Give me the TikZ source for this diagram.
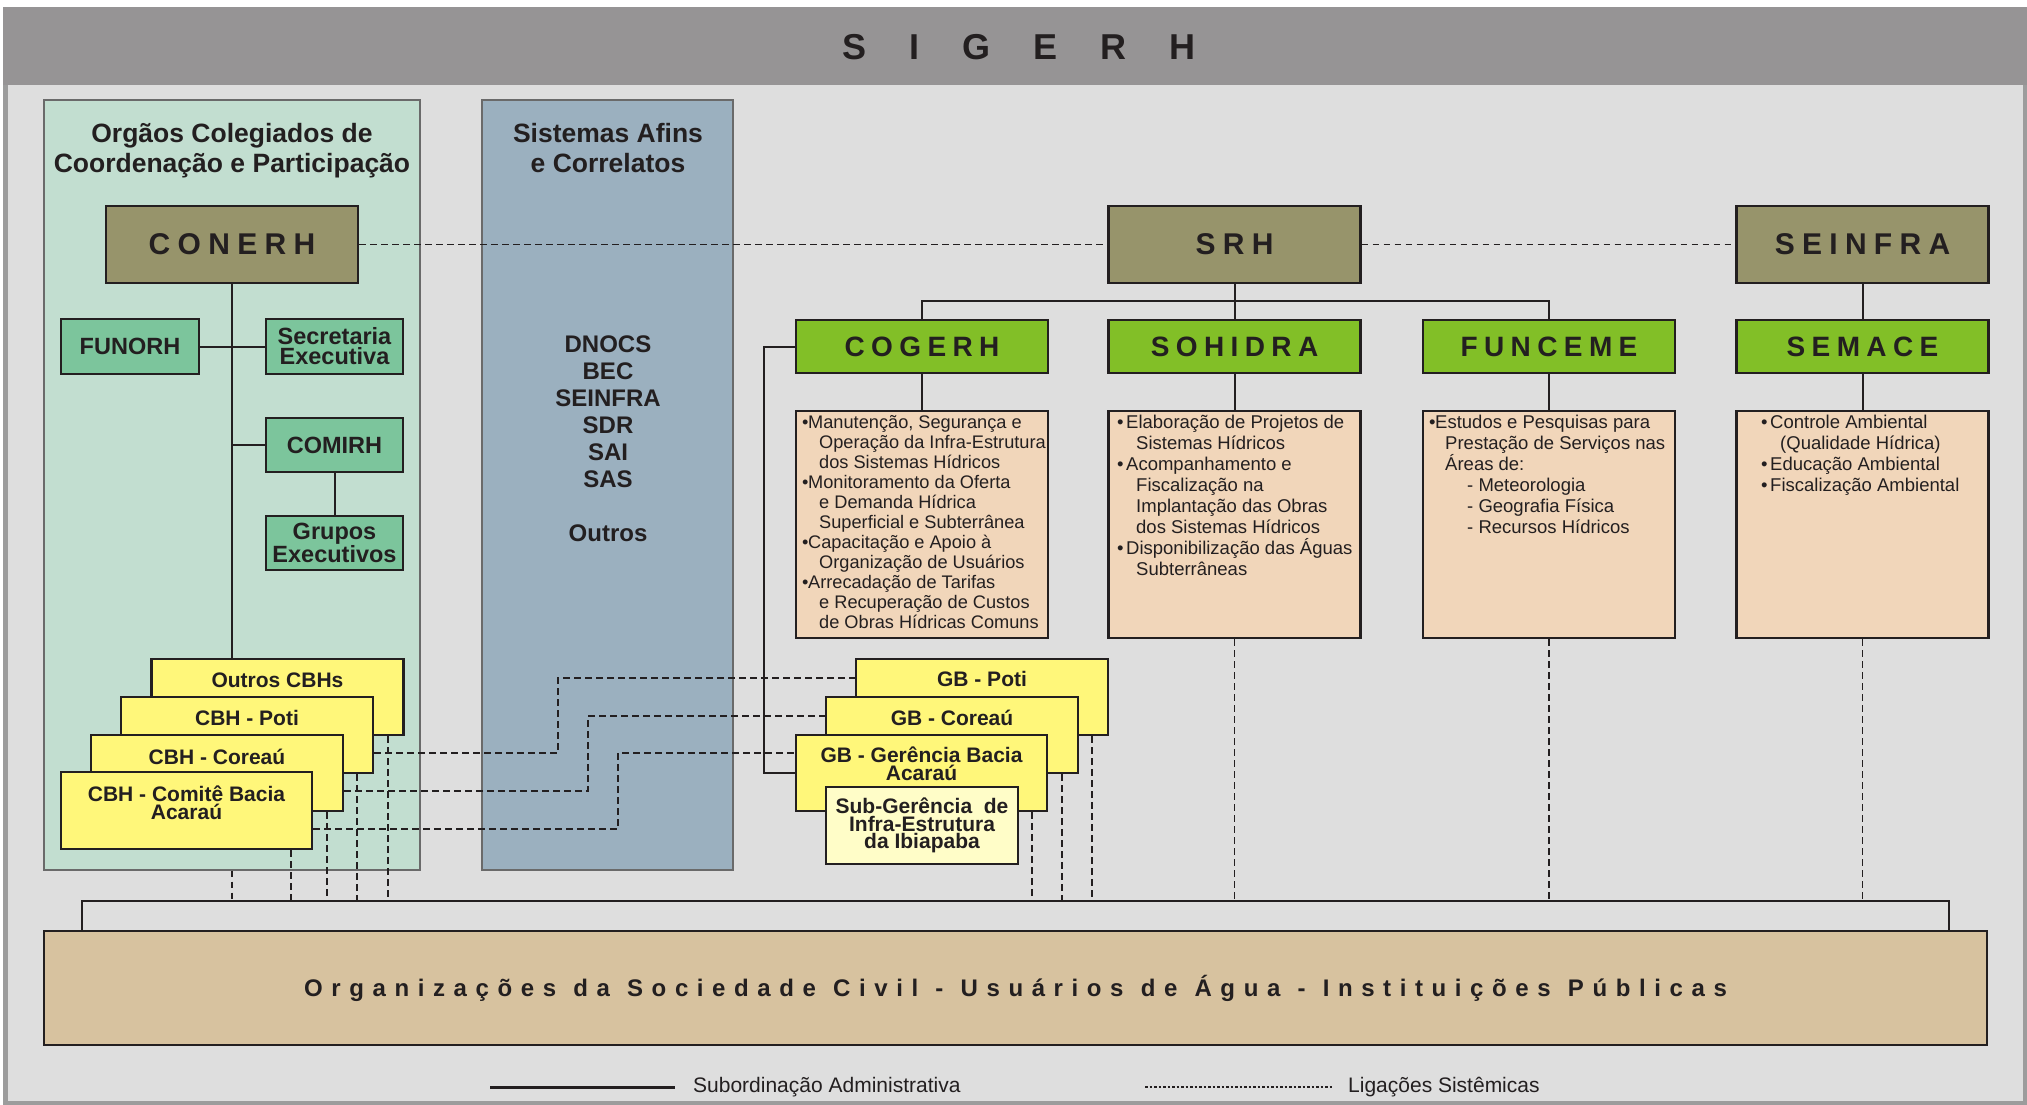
\documentclass[tikz,border=0pt]{standalone}
\usepackage{fontspec}
\setmainfont{Liberation Sans}
\usetikzlibrary{calc}
\makeatletter
\newcommand\spacedtext[2]{\def\spt@k{#1}\spt@a#2\@nil}
\def\spt@a#1#2\@nil{#1\ifx\relax#2\relax\else\kern\spt@k\relax\spt@a#2\@nil\fi}
\makeatother
\definecolor{ink}{HTML}{231F20}
\definecolor{framegray}{HTML}{9C9C9C}
\definecolor{hdrgray}{HTML}{969495}
\definecolor{bglight}{HTML}{DEDEDE}
\definecolor{mintc}{HTML}{C2DED0}
\definecolor{steelc}{HTML}{9BB0BF}
\definecolor{olivec}{HTML}{97946B}
\definecolor{limec}{HTML}{82BF27}
\definecolor{tealc}{HTML}{7CC59C}
\definecolor{peachc}{HTML}{F1D6BA}
\definecolor{ylwc}{HTML}{FFF77A}
\definecolor{paleylwc}{HTML}{FFFDC8}
\definecolor{tanc}{HTML}{D7C29F}
\definecolor{panelline}{HTML}{6A6A6A}
\tikzset{
  box/.style={draw=ink, line width=2.2pt, inner sep=0pt, text=ink},
  panel/.style={draw=panelline, line width=1.3pt, inner sep=0pt},
  olivebox/.style={box, fill=olivec, minimum width=252pt, minimum height=77pt, font=\bfseries\fontsize{30}{30}\selectfont},
  limebox/.style={box, fill=limec, minimum width=252pt, minimum height=53pt, font=\bfseries\fontsize{28}{28}\selectfont},
  descbox/.style={box, fill=peachc, minimum width=252pt, minimum height=227pt},
  desctext/.style={anchor=north west, inner sep=0pt, align=left, text=ink},
  tealbox/.style={box, fill=tealc, minimum width=137pt, minimum height=55pt, align=center, font=\bfseries\fontsize{23.5}{20}\selectfont},
  ybox/.style={box, fill=ylwc, minimum width=252pt, minimum height=76pt},
  ytext/.style={anchor=north, inner sep=0pt, align=center, text=ink, font=\bfseries\fontsize{21}{18}\selectfont},
  conn/.style={draw=ink, line width=2pt},
  dsh/.style={draw=ink, line width=1.3pt, dash pattern=on 6.5pt off 4.5pt},
  ttl/.style={anchor=north, inner sep=0pt, align=center, text=ink, font=\bfseries\fontsize{26.5}{30}\selectfont},
}
\begin{document}
\begin{tikzpicture}[x=1pt,y=-1pt]
\useasboundingbox (0,0) rectangle (2027,1105);
\fill[white] (0,0) rectangle (2027,1105);
\fill[framegray] (3,7) rectangle (2027,1105);
\fill[hdrgray] (3,7) rectangle (2027,85);
\fill[bglight] (8,85) rectangle (2023,1101);
\node[inner sep=0pt, text=ink, font=\bfseries\fontsize{36}{36}\selectfont] (title) at (1019,47) {\spacedtext{43pt}{SIGERH}};

% panels
\node[panel, fill=mintc, minimum width=376pt, minimum height=770pt] (orgpanel) at (232,485) {};
\node[panel, fill=steelc, minimum width=251pt, minimum height=770pt] (sispanel) at (607.5,485) {};
\node[ttl] (orgtitle) at (232,123) {Orgãos Colegiados de\\Coordenação e Participação};
\node[ttl] (sistitle) at (608,123) {Sistemas Afins\\e Correlatos};
\node[anchor=north, inner sep=0pt, align=center, text=ink, font=\bfseries\fontsize{24}{27}\selectfont] (sislist) at (608,336) {DNOCS\\BEC\\SEINFRA\\SDR\\SAI\\SAS\\[27pt]Outros};

% top boxes
\node[olivebox] (conerh) at (232,244.5) {\spacedtext{7.3pt}{CONERH}};
\node[olivebox] (srh) at (1234.5,244.5) {\spacedtext{7.3pt}{SRH}};
\node[olivebox] (seinfra) at (1862.5,244.5) {\spacedtext{7.3pt}{SEINFRA}};

\node[limebox] (cogerh) at (922,346.5) {\spacedtext{6.4pt}{COGERH}};
\node[limebox] (sohidra) at (1234.5,346.5) {\spacedtext{6.4pt}{SOHIDRA}};
\node[limebox] (funceme) at (1549,346.5) {\spacedtext{6.4pt}{FUNCEME}};
\node[limebox] (semace) at (1862.5,346.5) {\spacedtext{6.4pt}{SEMACE}};

\node[descbox] (cogerhd) at (922,524.5) {};
\node[descbox] (sohidrad) at (1234.5,524.5) {};
\node[descbox] (funcemed) at (1549,524.5) {};
\node[descbox] (semaced) at (1862.5,524.5) {};

\node[desctext, font=\fontsize{18.2}{20}\selectfont] (cogerht) at (802,414.5) {%
\rule{0pt}{14pt}\makebox[6pt][l]{•}Manutenção, Segurança e\\
\hspace*{17pt}Operação da Infra-Estrutura\\
\hspace*{17pt}dos Sistemas Hídricos\\
\makebox[6pt][l]{•}Monitoramento da Oferta\\
\hspace*{17pt}e Demanda Hídrica\\
\hspace*{17pt}Superficial e Subterrânea\\
\makebox[6pt][l]{•}Capacitação e Apoio à\\
\hspace*{17pt}Organização de Usuários\\
\makebox[6pt][l]{•}Arrecadação de Tarifas\\
\hspace*{17pt}e Recuperação de Custos\\
\hspace*{17pt}de Obras Hídricas Comuns};

\node[desctext, font=\fontsize{18.5}{21}\selectfont] (sohidrat) at (1117,414.5) {%
\rule{0pt}{14pt}\makebox[9pt][l]{•}Elaboração de Projetos de\\
\hspace*{19pt}Sistemas Hídricos\\
\makebox[9pt][l]{•}Acompanhamento e\\
\hspace*{19pt}Fiscalização na\\
\hspace*{19pt}Implantação das Obras\\
\hspace*{19pt}dos Sistemas Hídricos\\
\makebox[9pt][l]{•}Disponibilização das Águas\\
\hspace*{19pt}Subterrâneas};

\node[desctext, font=\fontsize{18.5}{21}\selectfont] (funcemet) at (1429,414.5) {%
\rule{0pt}{14pt}\makebox[6pt][l]{•}Estudos e Pesquisas para\\
\hspace*{16pt}Prestação de Serviços nas\\
\hspace*{16pt}Áreas de:\\
\hspace*{38pt}- Meteorologia\\
\hspace*{38pt}- Geografia Física\\
\hspace*{38pt}- Recursos Hídricos};

\node[desctext, font=\fontsize{18.5}{21}\selectfont] (semacet) at (1761,414.5) {%
\rule{0pt}{14pt}\makebox[9pt][l]{•}Controle Ambiental\\
\hspace*{19pt}(Qualidade Hídrica)\\
\makebox[9pt][l]{•}Educação Ambiental\\
\makebox[9pt][l]{•}Fiscalização Ambiental};

% teal boxes
\node[tealbox, minimum width=138pt] (funorh) at (130,346.5) {FUNORH};
\node[tealbox] (secretaria) at (334.5,346.5) {Secretaria\\Executiva};
\node[tealbox, minimum height=54pt] (comirh) at (334.5,445) {COMIRH};
\node[tealbox, minimum height=54pt] (grupos) at (334.5,543) {Grupos\\Executivos};

% CBH stack
\node[ybox] (outros) at (277.5,697) {};
\node[ytext] (outrost) at ($(outros.north)+(0,14.5)$) {Outros CBHs};
\node[ybox] (cbhpoti) at (247,735) {};
\node[ytext] (cbhpotit) at ($(cbhpoti.north)+(0,14.5)$) {CBH - Poti};
\node[ybox] (cbhcoreau) at (217,773) {};
\node[ytext] (cbhcoreaut) at ($(cbhcoreau.north)+(0,14.5)$) {CBH - Coreaú};
\node[ybox, minimum width=251pt, minimum height=77pt] (comite) at (186.5,810.5) {};
\node[ytext] (comitet) at ($(comite.north)+(0,14.5)$) {CBH - Comitê Bacia\\Acaraú};

% GB stack
\node[ybox] (gbpoti) at (982,697) {};
\node[ytext] (gbpotit) at ($(gbpoti.north)+(0,13.5)$) {GB - Poti};
\node[ybox] (gbcoreau) at (952,735) {};
\node[ytext] (gbcoreaut) at ($(gbcoreau.north)+(0,13.5)$) {GB - Coreaú};
\node[ybox, minimum width=251pt] (gbacarau) at (921.5,773) {};
\node[ytext] (gbacaraut) at ($(gbacarau.north)+(0,12.5)$) {GB - Gerência Bacia\\Acaraú};
\node[box, fill=paleylwc, minimum width=192pt, minimum height=77pt, align=center, font=\bfseries\fontsize{21}{17.5}\selectfont] (subger) at (922,825.5) {Sub-Gerência~ de\\Infra-Estrutura\\da Ibiapaba};

% bottom box
\node[box, fill=tanc, minimum width=1943pt, minimum height=114pt, font=\bfseries\fontsize{24}{24}\selectfont] (base) at (1015.5,988) {\spacedtext{8.6pt}{Organizações{}da{}Sociedade{}Civil{}-{}Usuários{}de{}Água{}-{}Instituições{}Públicas}};

\coordinate (barL) at (82,901);
\coordinate (barR) at (1949,901);

% administrative links
\draw[conn] (conerh.south) -- (conerh.south |- outros.north);
\draw[conn] (funorh.east) -- (secretaria.west);
\draw[conn] (conerh.south |- comirh.west) -- (comirh.west);
\draw[conn] (comirh.south) -- (grupos.north);
\draw[conn] (srh.south) -- (sohidra.north);
\coordinate (hbar) at (1234.5,301);
\draw[conn] (cogerh.north) |- (hbar) -| (funceme.north);
\draw[conn] (seinfra.south) -- (semace.north);
\draw[conn] (cogerh.south) -- (cogerhd.north);
\draw[conn] (sohidra.south) -- (sohidrad.north);
\draw[conn] (funceme.south) -- (funcemed.north);
\draw[conn] (semace.south) -- (semaced.north);
\draw[conn] (cogerh.west) -- ++(-31,0) |- (gbacarau.west);

% systemic links
\draw[dsh] (conerh.east) -- (srh.west);
\draw[dsh] (srh.east) -- (seinfra.west);
\draw[dsh] ($(cbhpoti.east)+(0,18)$) -| (558,678) -- ($(gbpoti.west)+(0,-19)$);
\draw[dsh] ($(cbhcoreau.east)+(0,18)$) -| (588,716) -- ($(gbcoreau.west)+(0,-19)$);
\draw[dsh] ($(comite.east)+(0,18.5)$) -| (618,753) -- ($(gbacarau.west)+(0,-20)$);

\draw[dsh] (orgpanel.south -| conerh.south) -- (barL -| conerh.south);
\draw[dsh] (291,0 |- comite.south) -- (291,0 |- barL);
\draw[dsh] (327,0 |- cbhcoreau.south) -- (327,0 |- barL);
\draw[dsh] (357,0 |- cbhpoti.south) -- (357,0 |- barL);
\draw[dsh] (388,0 |- outros.south) -- (388,0 |- barL);
\draw[dsh] (1032,0 |- gbacarau.south) -- (1032,0 |- barL);
\draw[dsh] (1062,0 |- gbcoreau.south) -- (1062,0 |- barL);
\draw[dsh] (1092,0 |- gbpoti.south) -- (1092,0 |- barL);
\draw[dsh] (sohidrad.south) -- (barL -| sohidrad.south);
\draw[dsh] (funcemed.south) -- (barL -| funcemed.south);
\draw[dsh] (semaced.south) -- (barL -| semaced.south);

\draw[conn] (barL |- base.north) -- (barL) -- (barR) -- (barR |- base.north);

% legend
\coordinate (l1a) at (490,1087);
\coordinate (l1b) at (675,1087);
\draw[ink, line width=3pt] (l1a) -- (l1b);
\node[anchor=west, inner sep=0pt, text=ink, font=\fontsize{21}{21}\selectfont] (leg1) at (693,1087) {Subordinação Administrativa};
\coordinate (l2a) at (1145,1087);
\coordinate (l2b) at (1332,1087);
\draw[ink, line width=1.8pt, dash pattern=on 2.5pt off 2pt] (l2a) -- (l2b);
\node[anchor=west, inner sep=0pt, text=ink, font=\fontsize{21}{21}\selectfont] (leg2) at (1348,1087) {Ligações Sistêmicas};
\end{tikzpicture}
\end{document}
